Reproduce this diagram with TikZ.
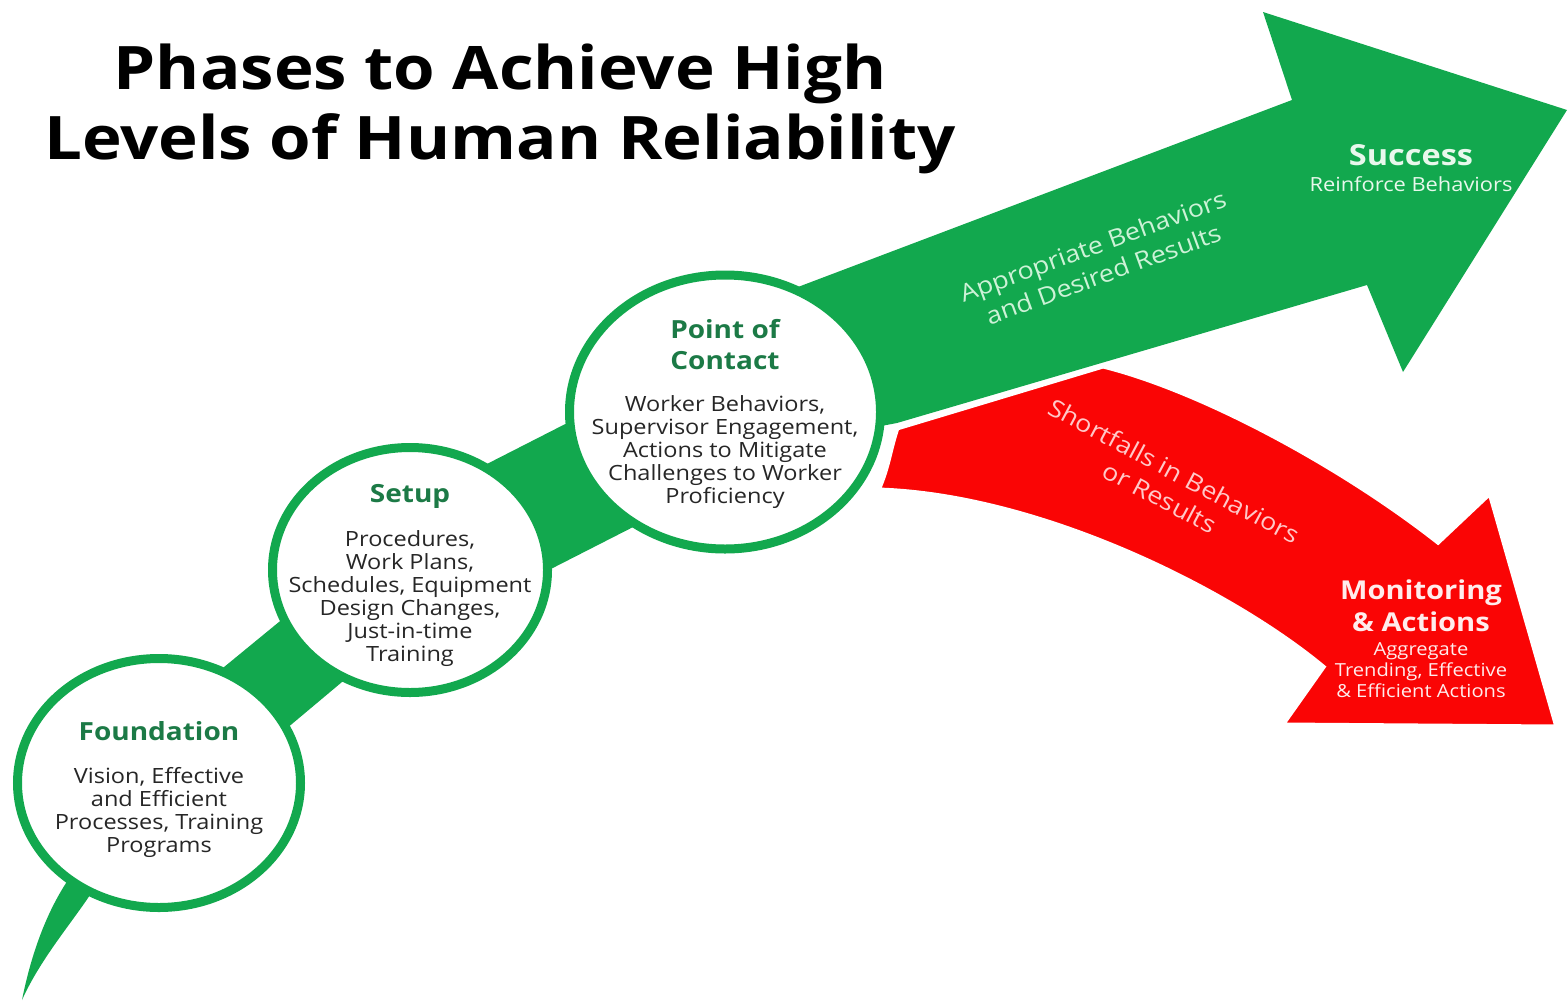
\documentclass[tikz,border=0pt]{standalone}
\usepackage{fontspec}
\setmainfont{Open Sans}[FakeStretch=1.12]
\usetikzlibrary{shapes.geometric,positioning}

\definecolor{arrowgreen}{RGB}{18,168,78}
\definecolor{headgreen}{RGB}{28,122,70}
\definecolor{arrowred}{RGB}{250,5,5}
\definecolor{bodygray}{RGB}{38,38,38}
\definecolor{palegreen}{RGB}{205,242,215}
\definecolor{palered}{RGB}{255,200,200}
\definecolor{lightgreen}{RGB}{232,248,236}
\definecolor{lightred}{RGB}{255,236,236}

\newcommand{\phasehead}[1]{{\fontsize{25}{30}\selectfont\bfseries\color{headgreen}#1}}

\begin{document}
\begin{tikzpicture}[x=1pt,y=-1pt,
    phase/.style={ellipse, draw=arrowgreen, line width=9pt, fill=white, inner sep=0pt},
    phase text/.style={align=center, inner sep=0pt, text=bodygray,
      font=\fontsize{21}{23}\selectfont},
    path label/.style={align=center, inner sep=0pt, font=\fontsize{24}{30}\selectfont},
    goal/.style={align=center, inner sep=0pt, font=\fontsize{29}{32}\selectfont\bfseries},
    goal sub/.style={align=center, inner sep=0pt}]

  \useasboundingbox (0,0) rectangle (1568,1004);

  % big green arrow, thin at the tail and wide at the head
  \fill[arrowgreen] (22,1000) .. controls (32,950) and (48,910) .. (68,880)
    -- (218,672) -- (296,608) -- (481,467) -- (579,417) -- (790,290)
    -- (1292,100) -- (1263,12) -- (1567,110) -- (1403,372)
    -- (1367,285) -- (897,423) -- (860,430) -- (641,523) -- (543,573)
    -- (342,682) -- (280,734) -- (90,895)
    .. controls (70,925) and (40,960) .. (22,1000) -- cycle;

  % phases
  \node[phase, minimum width=283pt, minimum height=249pt] (found) at (159,783) {};
  \node[phase, minimum width=275pt, minimum height=245pt] (setup) at (410,570) {};
  \node[phase, minimum width=311pt, minimum height=274pt] (contact) at (725,412) {};

  % red branch
  \filldraw[fill=arrowred, draw=white, line width=5pt]
    (897,428) -- (1103,366) .. controls (1200,390) and (1340,465) .. (1438,542)
    -- (1490,493) -- (1557,727) -- (1282,725) -- (1323,667)
    .. controls (1230,590) and (1040,495) .. (878,490)
    .. controls (888,468) and (890,448) .. (897,428) -- cycle;

  \node[anchor=north, align=center, inner sep=0pt,
    font=\fontsize{60}{70}\selectfont\bfseries] (title) at (500,44)
    {Phases to Achieve High\\Levels of Human Reliability};

  \node[phase text, yshift=-7pt] (found-txt) at (found)
    {\phasehead{Foundation}\\[20pt]Vision, Effective\\and Efficient\\Processes, Training\\Programs};
  \node[phase text, yshift=-5pt] (setup-txt) at (setup)
    {\phasehead{Setup}\\[21pt]Procedures,\\Work Plans,\\Schedules, Equipment\\Design Changes,\\Just-in-time\\Training};
  \node[phase text, yshift=-2pt] (contact-txt) at (contact)
    {\phasehead{Point of}\\[8pt]\phasehead{Contact}\\[19pt]Worker Behaviors,\\Supervisor Engagement,\\Actions to Mitigate\\Challenges to Worker\\Proficiency};

  \node[path label, text=palegreen, rotate=20] (good-path) at (1098,260)
    {Appropriate Behaviors\\and Desired Results};
  \node[path label, text=palered, rotate=-28] (bad-path) at (1167,484)
    {Shortfalls in Behaviors\\or Results};

  \node[goal, text=lightgreen] (success) at (1411,155) {Success};
  \node[goal sub, text=lightgreen, font=\fontsize{19.5}{21}\selectfont,
    below=11pt of success] (success-sub) {Reinforce Behaviors};

  \node[goal, text=lightred, font=\fontsize{26}{32}\selectfont\bfseries] (monitor)
    at (1421,606) {Monitoring\\\& Actions};
  \node[goal sub, text=lightred, font=\fontsize{18}{21}\selectfont,
    below=10pt of monitor] (monitor-sub) {Aggregate\\Trending, Effective\\\& Efficient Actions};

\end{tikzpicture}
\end{document}
